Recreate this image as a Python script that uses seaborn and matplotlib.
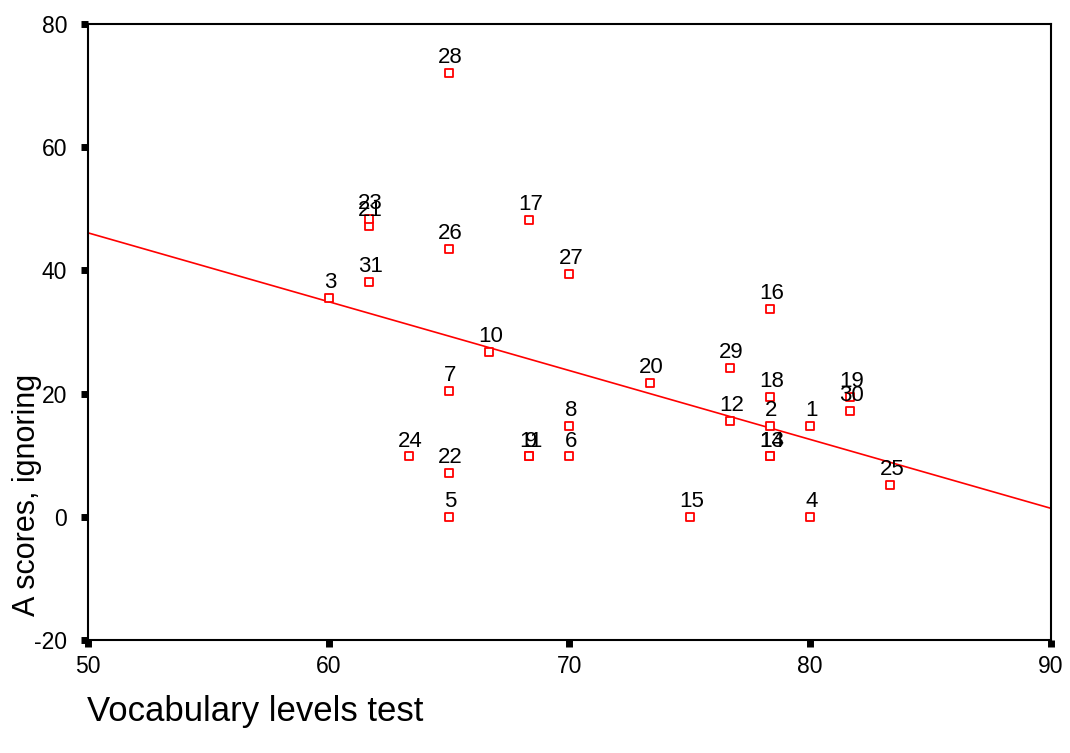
import matplotlib
matplotlib.use("Agg")
import matplotlib.pyplot as plt
import seaborn as sns
import pandas as pd

case_ids = [1, 2, 3, 4, 5, 6, 7, 8, 9, 10, 11, 12, 13, 14, 15, 16, 17, 18, 19, 20,
            21, 22, 23, 24, 25, 26, 27, 28, 29, 30, 31]
vocab = [80.0, 78.33, 60.0, 80.0, 65.0, 70.0, 65.0, 70.0, 68.33, 66.67, 68.33, 76.67,
         78.33, 78.33, 75.0, 78.33, 68.33, 78.33, 81.67, 73.33, 61.67, 65.0, 61.67,
         63.33, 83.33, 65.0, 70.0, 65.0, 76.67, 81.67, 61.67]
a_scores = [14.7, 14.7, 35.5, 0.0, 0.0, 9.8, 20.4, 14.7, 9.8, 26.8, 9.8, 15.5,
            9.8, 9.8, 0.0, 33.7, 48.2, 19.4, 19.4, 21.7, 47.2, 7.1, 48.3,
            9.8, 5.2, 43.5, 39.4, 72.0, 24.2, 17.2, 38.1]
x_ticks = [50, 60, 70, 80, 90]
y_ticks = [-20, 0, 20, 40, 60, 80]

df = pd.DataFrame({"id": case_ids, "vocab": vocab, "score": a_scores})

sns.set_style("white")
plt.rcParams["font.family"] = ["Liberation Sans", "DejaVu Sans"]
plt.rcParams["text.color"] = "black"
plt.rcParams["xtick.color"] = "black"
plt.rcParams["ytick.color"] = "black"
plt.rcParams["axes.labelcolor"] = "black"

fig = plt.figure(figsize=(10.7, 7.53), dpi=100)
ax = fig.add_axes([0.0822, 0.150, 0.900, 0.8181])
ax.set_xlim(50, 90)
ax.set_ylim(-20, 80)

sns.regplot(data=df, x="vocab", y="score", ax=ax, scatter=False, ci=None,
            truncate=False, color="#ff0000", line_kws={"linewidth": 1.2})
sns.scatterplot(data=df, x="vocab", y="score", ax=ax, marker="s", s=32,
                facecolor="white", edgecolor="#ff0000", linewidth=1.3, zorder=3)

for cid, xv, yv in zip(df["id"], df["vocab"], df["score"]):
    ax.annotate(str(cid), (xv, yv), xytext=(1, 3.5), textcoords="offset points",
                ha="center", va="bottom", fontsize=16, color="black", zorder=4)

ax.set_xlim(50, 90)
ax.set_ylim(-20, 80)
ax.set_xticks(x_ticks)
ax.set_yticks(y_ticks)
ax.set_xticklabels([str(t) for t in x_ticks])
ax.set_yticklabels([str(t) for t in y_ticks])
ax.tick_params(axis="both", direction="out", length=5, width=5, color="black",
               labelcolor="black", labelsize=16.5, pad=10, bottom=True, left=True)
ax.tick_params(axis="x", pad=6)
for sp in ax.spines.values():
    sp.set_visible(True)
    sp.set_color("black")
    sp.set_linewidth(1.5)
ax.set_xlabel("")
ax.set_ylabel("")

fig.text(0.081, 1 - 711 / 753, "Vocabulary levels test", fontsize=25, ha="left",
         va="center", color="black")
fig.text(0.025, 1 - 495 / 753, "A scores, ignoring", fontsize=22, rotation=90,
         ha="center", va="center", color="black")

fig.savefig("out.png", dpi=100)
